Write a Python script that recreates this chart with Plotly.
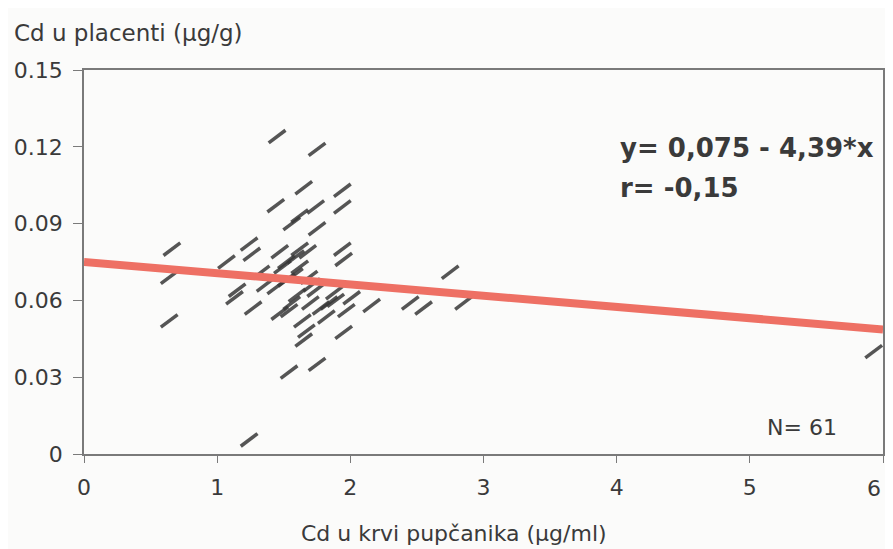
import plotly.graph_objects as go

# Data
cd_blood = [1.45, 1.75, 1.44, 1.65, 1.56, 1.62, 1.74, 1.94, 1.94, 1.75,
            0.66, 1.07, 1.24, 1.26, 1.47, 1.59, 1.68, 1.94, 1.95, 0.64,
            0.64, 1.15, 1.13, 1.27, 1.49, 1.62, 1.52, 1.44, 1.69, 1.74,
            1.71, 1.47, 1.54, 1.56, 1.64, 1.67, 1.65, 1.84, 1.89, 2.01,
            1.82, 1.97, 2.16, 1.95, 1.54, 1.75, 1.24, 2.75, 2.45, 2.55,
            2.85, 5.93, 1.58, 1.78, 1.60, 1.52, 1.33, 1.88, 1.70, 1.36, 1.62]
cd_placenta = [0.124, 0.119, 0.097, 0.104, 0.090, 0.093, 0.0965, 0.103, 0.0965, 0.088,
               0.080, 0.075, 0.082, 0.078, 0.079, 0.077, 0.079, 0.080, 0.076, 0.069,
               0.052, 0.064, 0.061, 0.057, 0.073, 0.073, 0.075, 0.065, 0.069, 0.064,
               0.066, 0.055, 0.056, 0.059, 0.052, 0.048, 0.0445, 0.059, 0.060, 0.061,
               0.0535, 0.056, 0.058, 0.0475, 0.032, 0.035, 0.0055, 0.071, 0.059, 0.057,
               0.059, 0.040, 0.070, 0.057, 0.062, 0.068, 0.071, 0.063, 0.059, 0.066, 0.080]

INTERCEPT = 0.075
SLOPE = -0.00439
fit_x = [0, 6]
fit_y = [INTERCEPT + SLOPE * v for v in fit_x]

x_ticks = [0, 1, 2, 3, 4, 5, 6]
x_tick_labels = ["0", "1", "2", "3", "4", "5", "6"]
y_ticks = [0, 0.03, 0.06, 0.09, 0.12, 0.15]
y_tick_labels = ["0", "0.03", "0.06", "0.09", "0.12", "0.15"]

FONT = "DejaVu Sans, Liberation Sans, Arial, sans-serif"
TXT = "#3a3a3a"
AX = "#7a7a7a"

# page body has an 8px margin; figure pixel coords = window coords - 8
OFF = 8
W, H = 877, 541
L, T = 84 - OFF, 70 - OFF
R = 0
B = H - (454 - OFF)

fig = go.Figure()
fig.add_trace(go.Scatter(
    x=cd_blood, y=cd_placenta, mode="markers",
    marker=dict(symbol="line-ew", angle=-37, size=15,
                line=dict(width=3.5, color="rgba(55,55,55,0.85)")),
    showlegend=False, hoverinfo="x+y"))
fig.add_trace(go.Scatter(
    x=fit_x, y=fit_y, mode="lines",
    line=dict(color="rgb(238,112,100)", width=8),
    showlegend=False, cliponaxis=False))

# last x tick label sits on the page edge; it is drawn as a right-anchored text
axis_labels = x_tick_labels[:-1] + [""]

fig.update_layout(
    width=W, height=H,
    margin=dict(l=L, r=R, t=T, b=B),
    paper_bgcolor="#fbfbfa", plot_bgcolor="#fbfbfa",
    font=dict(family=FONT, size=22, color=TXT),
    xaxis=dict(range=[0, 6], tickvals=x_ticks, ticktext=axis_labels,
               showgrid=False, zeroline=False,
               showline=True, linecolor=AX, linewidth=1.5, mirror=True,
               ticks="outside", ticklen=7, tickcolor=AX, tickwidth=1,
               ticklabelstandoff=6,
               tickfont=dict(size=22, color=TXT)),
    yaxis=dict(range=[0, 0.15], tickvals=y_ticks, ticktext=y_tick_labels,
               showgrid=False, zeroline=False,
               showline=True, linecolor=AX, linewidth=1.5, mirror=True,
               ticks="outside", ticklen=9, tickcolor=AX, tickwidth=1,
               ticklabelstandoff=6,
               tickfont=dict(size=22, color=TXT)),
)

pw, ph = W - L - R, H - T - B
def px(xp):
    return (xp - 84) / pw
def py(yp):
    return (454 - yp) / ph

texts = [
    ("Cd u placenti (µg/g)", 12, 33, "left", 23),
    ("Cd u krvi pupčanika (µg/ml)", 455, 533, "center", 22),
    ("<b>y= 0,075 - 4,39*x</b>", 619, 148, "left", 26),
    ("<b>r= -0,15</b>", 619, 188, "left", 26),
    ("N= 61", 767, 427, "left", 22),
    (x_tick_labels[-1], 885, 488, "right", 22),
]
for t, xp, yp, xa, fs in texts:
    fig.add_annotation(text=t, x=px(xp), y=py(yp), xref="paper", yref="paper",
                       xanchor=xa, yanchor="middle", showarrow=False,
                       font=dict(size=fs, color=TXT))

fig.write_html("out.html")
